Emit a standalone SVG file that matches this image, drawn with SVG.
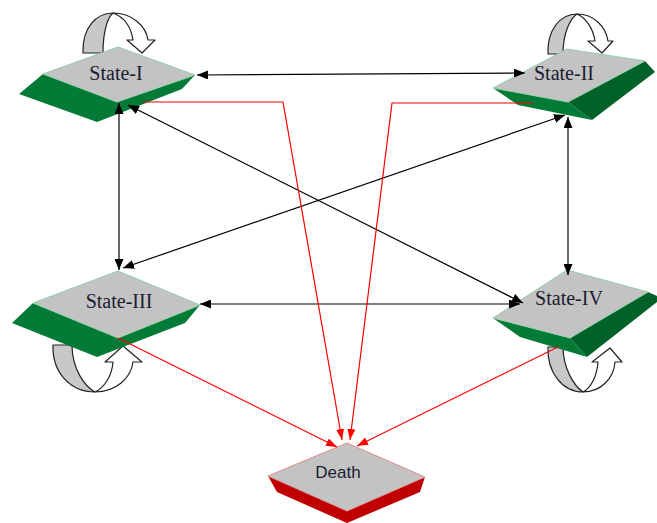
<svg xmlns="http://www.w3.org/2000/svg" width="657" height="523" viewBox="0 0 657 523">
<style>
.top{fill:#c3c3c3;stroke:#8fd0a8;stroke-width:1}
.topd{fill:#c3c3c3;stroke:#d89090;stroke-width:1}
.grn{fill:#037b36}
.dgrn{fill:#006229}
.red{fill:#c00000}
.loopg{fill:#c8c8c8;stroke:#222;stroke-width:1.2;stroke-linejoin:round}
.loopw{fill:#fff;stroke:#222;stroke-width:1.2;stroke-linejoin:round}
.lbl{font-family:"Liberation Serif","DejaVu Serif",serif;font-size:20px;fill:#1c1c30;text-anchor:middle}
.lbls{font-family:"Liberation Sans",Arial,sans-serif;font-size:17px;fill:#1c1c30;text-anchor:middle}
.blk{fill:none;stroke:#000;stroke-width:1.2;marker-start:url(#ab);marker-end:url(#ab)}
.rd{fill:none;stroke:#ff0000;stroke-width:1.2;marker-end:url(#ar)}
</style>
<defs>
<marker id="ab" viewBox="0 0 11 9" refX="11" refY="4.5" markerWidth="11" markerHeight="9" markerUnits="userSpaceOnUse" orient="auto-start-reverse"><path d="M0,0 L11,4.5 L0,9 Z" fill="#000"/></marker>
<marker id="ar" viewBox="0 0 11 8" refX="11" refY="4" markerWidth="11" markerHeight="8" markerUnits="userSpaceOnUse" orient="auto"><path d="M0,0 L11,4 L0,8 Z" fill="#ff0000"/></marker>
</defs>
<rect width="657" height="523" fill="#fff"/>

<g id="state1">
<path class="loopg" d="M83,53 C82,28 96,13 113,13 C107,18 103,33 103,53 Z"/>
<path class="loopw" d="M113,13 C132,13 146,26 148,40 L155,40 L142,53 L127,40 L133,40 C131,27 124,17 113,13 Z"/>
<polygon class="grn" points="43,74 19,94 97,122 182,89 195,75 117,102"/>
<polygon class="top" points="118,47 195,75 117,102 43,74"/>
<text class="lbl" x="116" y="80">State-I</text>
</g>

<g id="state2">
<path class="loopg" d="M548,54 C547,30 560,14 577,14 C570,19 563,33 563,54 Z"/>
<path class="loopw" d="M577,14 C594,14 606,27 608,41 L613,41 L602,53 L588,41 L595,41 C593,28 586,18 577,14 Z"/>
<polygon class="grn" points="493,88 518,105 592,120 568,102"/>
<polygon class="dgrn" points="645,61 655,72 592,120 568,102"/>
<polygon class="top" points="567,49 645,61 568,102 493,88"/>
<text class="lbl" x="564" y="80">State-II</text>
</g>

<g id="state3">
<path class="loopg" d="M53,345 C52,372 70,392 95,392 C84,386 72,368 72,345 Z"/>
<path class="loopw" d="M95,392 C116,392 131,378 133,362 L142,362 L123,346 L105,362 L113,362 C112,376 104,388 95,392 Z"/>
<polygon class="grn" points="33,303 12,323 97,357 185,323 200,305 118,338"/>
<polygon class="top" points="118,271 200,305 118,338 33,303"/>
<text class="lbl" x="119" y="308">State-III</text>
</g>

<g id="state4">
<path class="loopg" d="M548,347 C547,372 562,392 583,392 C574,386 563,368 563,347 Z"/>
<path class="loopw" d="M583,392 C601,392 614,378 615,362 L622,362 L610,348 L592,362 L598,362 C597,376 591,388 583,392 Z"/>
<polygon class="grn" points="493,318 520,337 587,357 570,338"/>
<polygon class="dgrn" points="648,292 657,296 657,302 587,357 570,338"/>
<polygon class="top" points="567,270 648,292 570,338 493,318"/>
<text class="lbl" x="569" y="305">State-IV</text>
</g>

<g id="death">
<polygon class="red" points="268,476 277,492 347,523 420,492 425,477 347,511"/>
<polygon class="topd" points="347,443 425,477 347,511 268,476"/>
<text class="lbls" x="338" y="478">Death</text>
</g>

<g id="connectors">
<line class="blk" x1="197" y1="75" x2="525" y2="73"/>
<line class="blk" x1="119" y1="103" x2="119" y2="270"/>
<line class="blk" x1="128" y1="105" x2="523" y2="303"/>
<line class="blk" x1="565" y1="115" x2="123" y2="268"/>
<line class="blk" x1="568" y1="117" x2="568" y2="275"/>
<line class="blk" x1="200" y1="304" x2="520" y2="304"/>
<polyline class="rd" points="143,102 283,102 342,440"/>
<polyline class="rd" points="533,103 392,103 350,440"/>
<line class="rd" x1="118" y1="338" x2="337" y2="447"/>
<line class="rd" x1="558" y1="347" x2="357" y2="446"/>
</g>
</svg>
